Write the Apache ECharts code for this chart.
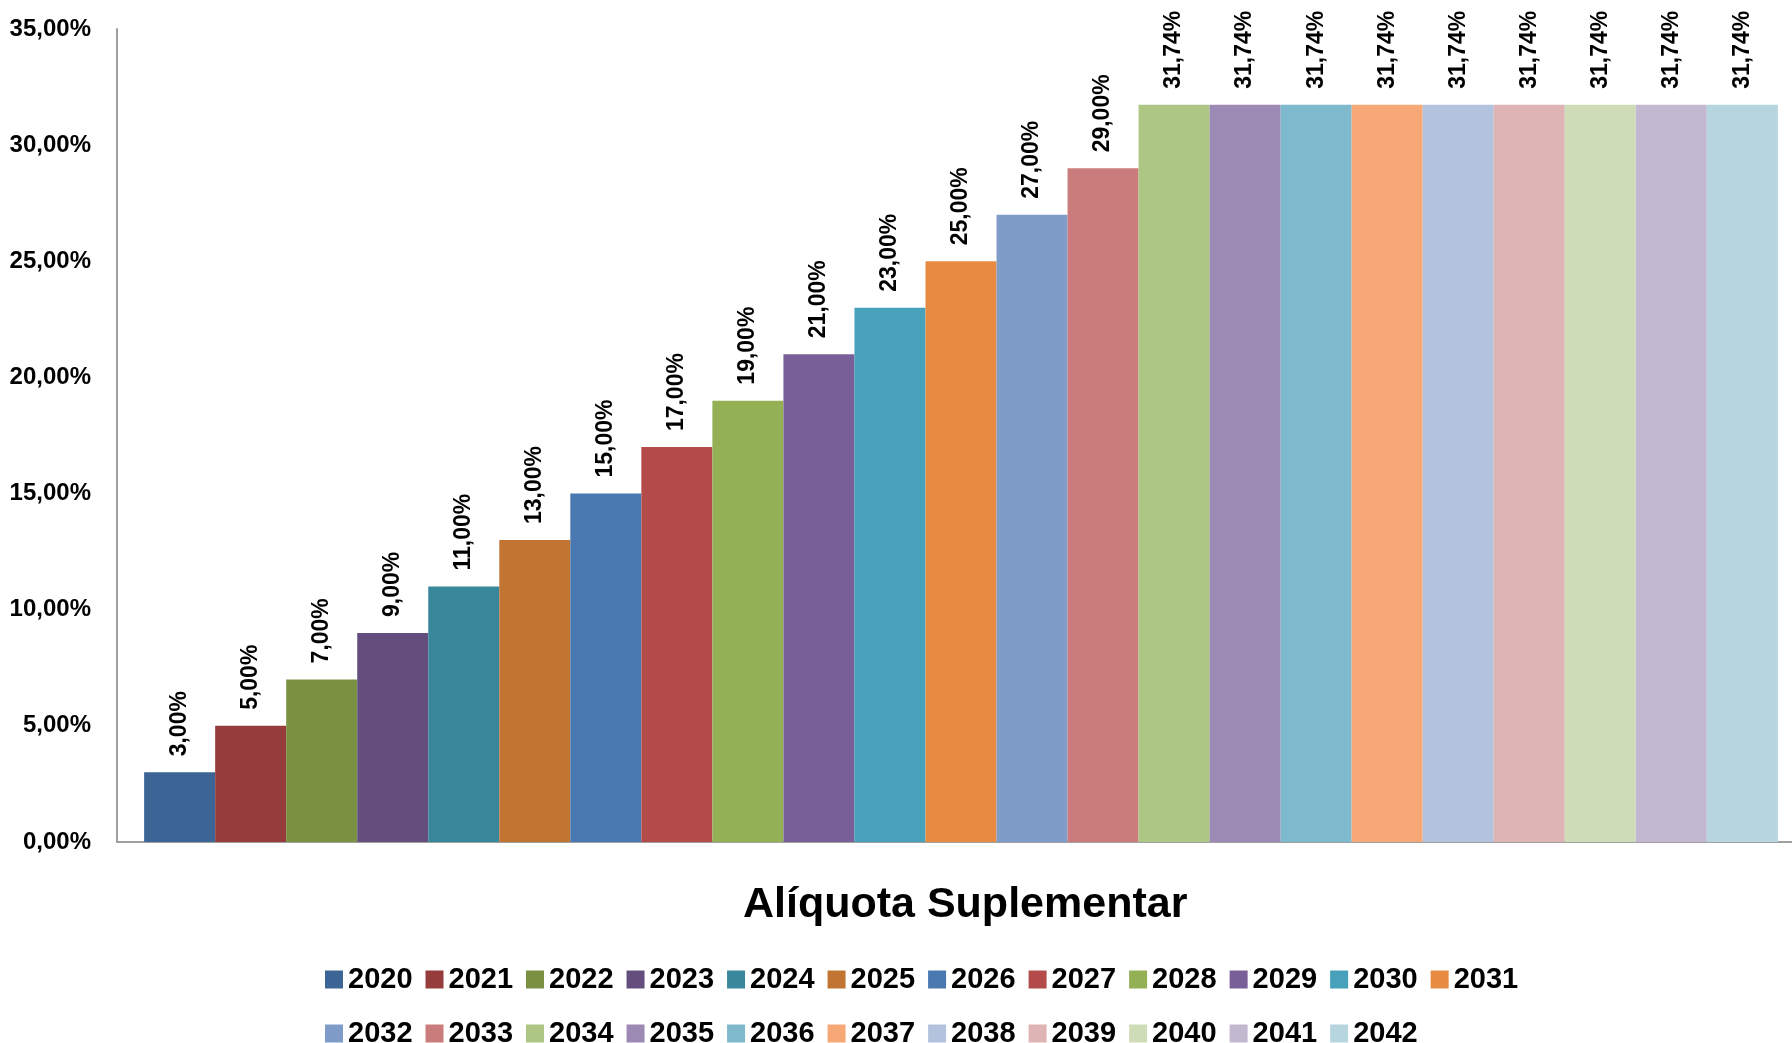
<!DOCTYPE html>
<html><head><meta charset="utf-8">
<script src="https://cdn.jsdelivr.net/npm/echarts@6/dist/echarts.min.js"></script>
<style>html,body{margin:0;padding:0;background:#fff}#c{width:1792px;height:1043px}</style>
</head><body><div id="c"></div>
<script>
const years = ['2020','2021','2022','2023','2024','2025','2026','2027','2028','2029','2030','2031','2032','2033','2034','2035','2036','2037','2038','2039','2040','2041','2042'];
const values = [3.00,5.00,7.00,9.00,11.00,13.00,15.00,17.00,19.00,21.00,23.00,25.00,27.00,29.00,31.74,31.74,31.74,31.74,31.74,31.74,31.74,31.74,31.74];
const colors = ['#3C6495','#963C3C','#7A9142','#644E7E','#39879A','#C27433','#4A78B0','#B34B4A','#93B055','#785F98','#48A1BA','#E88B42','#7F9CC8','#CA7B7B','#AEC684','#9C89B4','#7EB9CE','#F6A977','#B4C3DD','#DFB4B4','#CEDCB8','#C2B8D0','#B6D5DF'];
const yTicks = [0,5,10,15,20,25,30,35];
const titleText = 'Alíquota Suplementar';

const FONT = 'Liberation Sans';
const fmt = v => v.toFixed(2).replace('.', ',') + '%';
const chart = echarts.init(document.getElementById('c'), null, {renderer:'canvas'});
const series = years.map((y,i) => ({
  name: y, type: 'bar', data: [values[i]],
  itemStyle: {color: colors[i]},
  barGap: '0%', barCategoryGap: '1.7%',
  label: {show: true, position: 'top', rotate: 90, align: 'left', verticalAlign: 'middle', distance: 16,
    formatter: p => fmt(p.value), fontFamily: FONT, fontWeight: 'bold', fontSize: 23, color: '#000'}
}));
const legendStyle = {fontFamily: FONT, fontWeight: 'bold', fontSize: 29, color: '#000'};
chart.setOption({
  animation: false,
  color: colors,
  title: {text: titleText, left: 738, top: 879, textStyle: {fontFamily: FONT, fontWeight: 'bold', fontSize: 43, color: '#000'}},
  grid: {left: 130, right: 0, top: 29, bottom: 201, containLabel: false},
  legend: [
    {data: years.slice(0,12), left: 320, top: 960, itemWidth: 18, itemHeight: 18, itemGap: 13, icon: 'rect', textStyle: legendStyle, selectedMode: false},
    {data: years.slice(12), left: 320, top: 1014, itemWidth: 18, itemHeight: 18, itemGap: 13, icon: 'rect', textStyle: legendStyle, selectedMode: false}
  ],
  graphic: [{type: 'line', shape: {x1: 116, y1: 842, x2: 131, y2: 842}, style: {stroke: '#A0A0A0', lineWidth: 2}, silent: true}],
  xAxis: {type: 'category', data: [''], axisLine: {show: true, lineStyle: {color: '#A0A0A0', width: 2}}, axisTick: {show: false}, axisLabel: {show: false}},
  yAxis: {type: 'value', min: yTicks[0], max: yTicks[yTicks.length-1], interval: 5, offset: 13,
    axisLine: {show: true, lineStyle: {color: '#A0A0A0', width: 2}}, axisTick: {show: false}, splitLine: {show: false},
    axisLabel: {formatter: v => fmt(v), fontFamily: FONT, fontWeight: 'bold', fontSize: 24, color: '#000', margin: 26}},
  series
});
</script></body></html>
